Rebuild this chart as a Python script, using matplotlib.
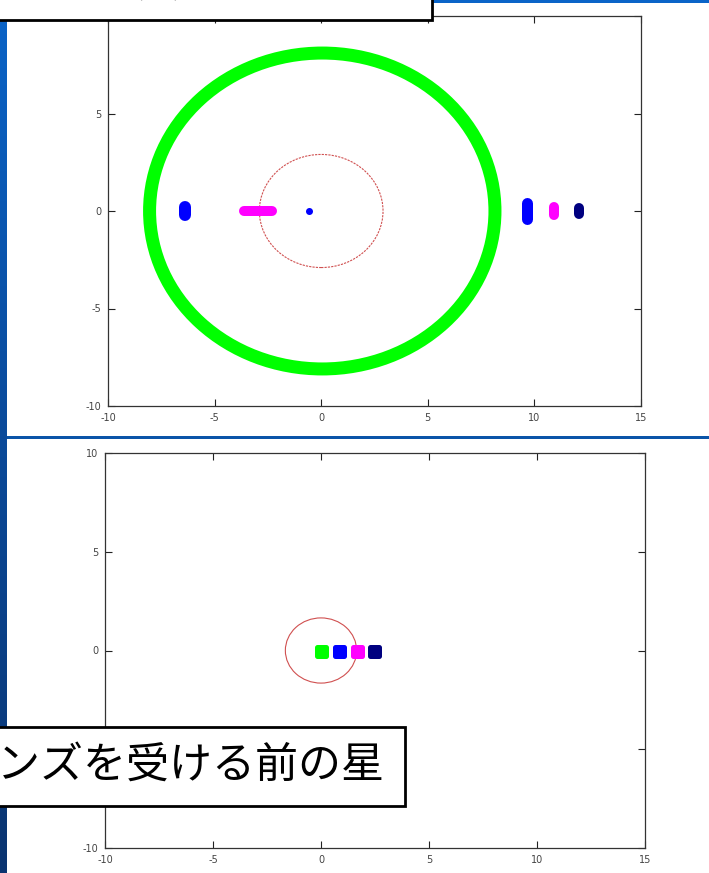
import numpy as np
import matplotlib
matplotlib.use("Agg")
import matplotlib.pyplot as plt
from matplotlib.patches import Circle, Rectangle
from matplotlib.colors import LinearSegmentedColormap
from matplotlib.markers import MarkerStyle

plt.rcParams['font.family'] = ['Noto Sans CJK JP', 'DejaVu Sans']
plt.rcParams['axes.unicode_minus'] = False

W, H = 709, 873
DPI = 100
PX = 72.0 / DPI  # points per pixel

# ---------------- data ----------------
x_ticks = [-10, -5, 0, 5, 10, 15]
y_ticks = [-10, -5, 0, 5, 10]

# top panel: lensed images
ring_center = (0.05, 0.0)
ring_radius = 8.1
einstein_radius_top = 2.9

streak_x0 = [-6.4, -3.6, 9.65, 10.94, 12.07]
streak_x1 = [-6.4, -2.3, 9.65, 10.94, 12.07]
streak_y0 = [-0.23, 0.0, -0.41, -0.23, -0.13]
streak_y1 = [0.23, 0.0, 0.41, 0.23, 0.13]
streak_colors = ['#0000ff', '#ff00ff', '#0000ff', '#ff00ff', '#000080']
streak_widths_px = [12, 10, 11, 10, 10]

dot_x = [-0.55]
dot_y = [0.0]

# bottom panel: source stars
einstein_radius_bottom = 1.65
src_x = [0.0, 0.85, 1.67, 2.45]
src_y = [0.0, 0.0, 0.0, 0.0]
src_colors = ['#00ff00', '#0000ff', '#ff00ff', '#000080']

top_caption = "レンズを受けた後の星"
bottom_caption = "レンズを受ける前の星"

# ---------------- figure ----------------
fig = plt.figure(figsize=(W / DPI, H / DPI), dpi=DPI)
fig.patch.set_facecolor('white')


def ax_rect(left, top, right, bottom):
    return [left / W, 1 - bottom / H, (right - left) / W, (bottom - top) / H]


def style_axes(ax):
    ax.set_xlim(-10, 15)
    ax.set_ylim(-10, 10)
    ax.set_xticks(x_ticks)
    ax.set_yticks(y_ticks)
    ax.tick_params(direction='in', length=5, width=0.8, top=True, right=True,
                   labelsize=7, labelcolor='#444444', color='#222222', pad=5)
    for lbl in ax.get_xticklabels() + ax.get_yticklabels():
        lbl.set_family('DejaVu Sans')
    for s in ax.spines.values():
        s.set_linewidth(0.9)
        s.set_color('#333333')
    ax.set_facecolor('white')


# top panel
ax1 = fig.add_axes(ax_rect(108, 16, 641, 406))
style_axes(ax1)
ax1.add_patch(Circle(ring_center, ring_radius, fill=False, edgecolor='#00ff00',
                     linewidth=13 * PX))
ax1.add_patch(Circle((0, 0), einstein_radius_top, fill=False, edgecolor='#d05050',
                     linewidth=0.8, linestyle=(0, (2, 1))))
for x0, x1, y0, y1, c, w in zip(streak_x0, streak_x1, streak_y0, streak_y1,
                                streak_colors, streak_widths_px):
    ax1.plot([x0, x1], [y0, y1], color=c, linewidth=w * PX,
             solid_capstyle='round')
ax1.plot(dot_x, dot_y, 'o', color='#0000ff', markersize=7 * PX, markeredgewidth=0)

# bottom panel
ax2 = fig.add_axes(ax_rect(105, 453, 645, 848))
style_axes(ax2)
ax2.add_patch(Circle((0, 0), einstein_radius_bottom, fill=False, edgecolor='#d05050',
                     linewidth=0.8))
rsq = MarkerStyle('s', joinstyle='round')
for x, y, c in zip(src_x, src_y, src_colors):
    ax2.plot([x], [y], linestyle='none', marker=rsq, markersize=9 * PX,
             markeredgewidth=5 * PX, markeredgecolor=c, markerfacecolor=c)

# ---------------- slide overlay ----------------
ov = fig.add_axes([0, 0, 1, 1], zorder=10)
ov.set_xlim(0, W)
ov.set_ylim(H, 0)
ov.axis('off')
ov.patch.set_visible(False)

# left blue strip with gradient
grad = np.linspace(0, 1, 256).reshape(-1, 1)
cmap = LinearSegmentedColormap.from_list('slide', ['#0a64c8', '#0a4a9a', '#0a3470'])
ov.imshow(grad, cmap=cmap, extent=[0, 7, H, 0], aspect='auto', zorder=1)

# horizontal separators
ov.add_patch(Rectangle((7, 436), W - 7, 3, facecolor='#0a54a8', edgecolor='none', zorder=2))
ov.add_patch(Rectangle((430, 0), W - 430, 3, facecolor='#0a64c8', edgecolor='none', zorder=2))

# caption boxes
ov.add_patch(Rectangle((-10, -20), 442, 40, facecolor='white', edgecolor='black',
                       linewidth=2, zorder=3))
ov.text(395, -15, top_caption, ha='right', va='center', fontsize=31, color='black',
        zorder=4, family=['Noto Sans CJK JP', 'DejaVu Sans'])

ov.add_patch(Rectangle((-10, 727), 415, 79, facecolor='white', edgecolor='black',
                       linewidth=2, zorder=3))
ov.text(384, 766, bottom_caption, ha='right', va='center', fontsize=31, color='black',
        zorder=4, family=['Noto Sans CJK JP', 'DejaVu Sans'])

fig.savefig('out.png', dpi=DPI)
